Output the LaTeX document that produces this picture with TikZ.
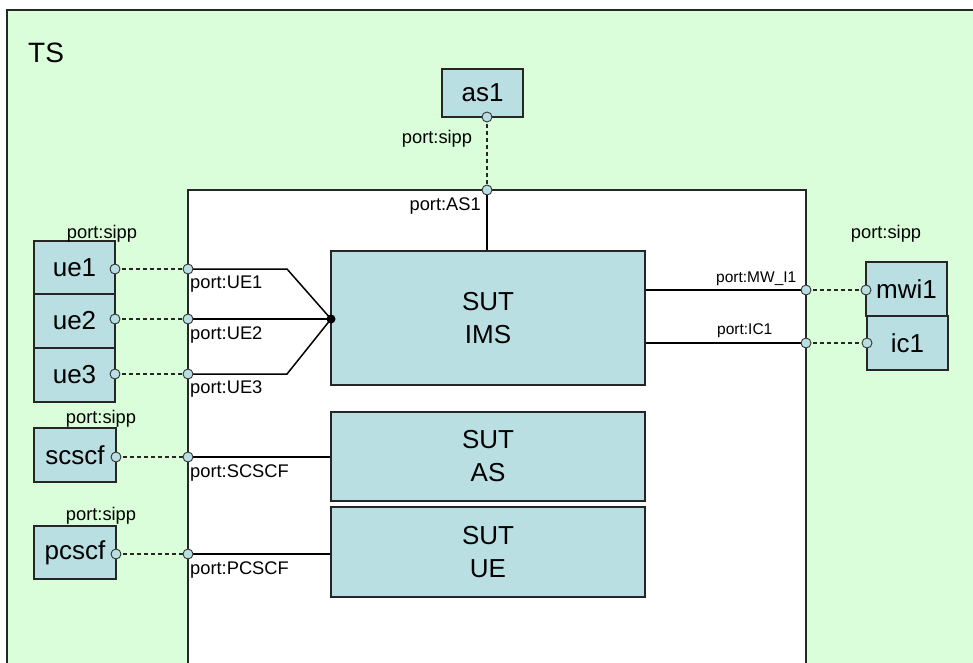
\documentclass[tikz,border=0pt]{standalone}
\usepackage{fontspec}
\setmainfont{Liberation Sans}
\definecolor{tsgreen}{HTML}{D9FED9}
\definecolor{boxblue}{HTML}{B9DFE3}
\begin{document}
\begin{tikzpicture}[x=1pt,y=-1pt,
  box/.style={draw=black!85, line width=1.4pt, fill=boxblue, inner sep=0pt, align=center,
    font=\fontsize{26}{33}\selectfont},
  portc/.style={circle, draw=black!80, line width=0.9pt, fill=boxblue, minimum size=10pt, inner sep=0pt},
  lbl/.style={font=\fontsize{18.3}{20}\selectfont, inner sep=0pt},
  rlbl/.style={font=\fontsize{15.5}{17}\selectfont, inner sep=0pt},
  conn/.style={draw=black, line width=1.5pt},
  dconn/.style={draw=black!85, line width=1.2pt, dash pattern=on 4pt off 3pt},
  frame/.style={draw=black!85, line width=1.6pt}]
\useasboundingbox (0,0) rectangle (973,662);
\clip (0,0) rectangle (973,662);
% TS frame
\fill[tsgreen] (7,10) rectangle (990,680);
\draw[frame] (7,690) -- (7,10) -- (990,10);
\node[anchor=base west, inner sep=0pt, font=\fontsize{28}{30}\selectfont] (ts) at (28,62) {TS};
% SUT frame
\fill[white] (188,190) rectangle (806,680);
\draw[frame] (188,690) -- (188,190) -- (806,190) -- (806,690);
% boxes
\node[box, minimum width=81pt, minimum height=48pt] (as1) at (482.5,93) {as1};
\node[box, minimum width=81pt, minimum height=53pt] (ue1) at (74.5,267.5) {ue1};
\node[box, minimum width=81pt, minimum height=54pt] (ue2) at (74.5,321) {ue2};
\node[box, minimum width=81pt, minimum height=54pt] (ue3) at (74.5,375) {ue3};
\node[box, minimum width=82pt, minimum height=54pt] (scscf) at (75,455) {scscf};
\node[box, minimum width=82pt, minimum height=53pt] (pcscf) at (75,552.5) {pcscf};
\node[box, minimum width=81pt, minimum height=54pt] (mwi1) at (906.5,289) {mwi1};
\node[box, minimum width=81pt, minimum height=54pt] (ic1) at (907.5,343) {ic1};
\node[box, minimum width=314pt, minimum height=134pt] (ims) at (488,318) {SUT\\IMS};
\node[box, minimum width=314pt, minimum height=89pt] (sutas) at (488,456.5) {SUT\\AS};
\node[box, minimum width=314pt, minimum height=90pt] (sutue) at (488,552) {SUT\\UE};
% port coordinates
\coordinate (pas1) at (487,117);
\coordinate (pAS1) at (487,190);
\coordinate (pue1) at (115,269);
\coordinate (pue2) at (115,319);
\coordinate (pue3) at (115,374);
\coordinate (pUE1) at (188,269);
\coordinate (pUE2) at (188,319);
\coordinate (pUE3) at (188,374);
\coordinate (pscscf) at (116,457);
\coordinate (pSCSCF) at (188,457);
\coordinate (ppcscf) at (116,554);
\coordinate (pPCSCF) at (188,554);
\coordinate (pmwi1) at (866,290);
\coordinate (pMW) at (806,290);
\coordinate (pic1) at (867,343);
\coordinate (pIC1) at (806,343);
\coordinate (j) at (331,319);
\coordinate (k1) at (287,269);
\coordinate (k3) at (287,374);
% solid connectors inside SUT
\draw[conn] (pAS1) -- (pAS1 |- ims.north);
\draw[conn] (pUE1) -- (k1) -- (j);
\draw[conn] (pUE2) -- (j);
\draw[conn] (pUE3) -- (k3) -- (j);
\draw[conn] (pSCSCF) -- (sutas.west |- pSCSCF);
\draw[conn] (pPCSCF) -- (sutue.west |- pPCSCF);
\draw[conn] (ims.east |- pMW) -- (pMW);
\draw[conn] (ims.east |- pIC1) -- (pIC1);
\fill[black] (j) circle (4.5pt);
% dashed connectors
\draw[dconn] (pas1) -- (pAS1);
\draw[dconn] (pue1) -- (pUE1);
\draw[dconn] (pue2) -- (pUE2);
\draw[dconn] (pue3) -- (pUE3);
\draw[dconn] (pscscf) -- (pSCSCF);
\draw[dconn] (ppcscf) -- (pPCSCF);
\draw[dconn] (pMW) -- (pmwi1);
\draw[dconn] (pIC1) -- (pic1);
% port circles
\foreach \p in {pas1,pAS1,pue1,pue2,pue3,pUE1,pUE2,pUE3,pscscf,pSCSCF,ppcscf,pPCSCF,pmwi1,pMW,pic1,pIC1}
  \node[portc] at (\p) {};
% labels
\node[lbl, anchor=base] (l1) at (437,143) {port:sipp};
\node[lbl, anchor=base east] (l2) at (481,210) {port:AS1};
\node[lbl, anchor=base] (l3) at (102,238) {port:sipp};
\node[lbl, anchor=base west] (l4) at (190,288) {port:UE1};
\node[lbl, anchor=base west] (l5) at (190,339) {port:UE2};
\node[lbl, anchor=base west] (l6) at (190,393) {port:UE3};
\node[lbl, anchor=base] (l7) at (101,423) {port:sipp};
\node[lbl, anchor=base west] (l8) at (190,477) {port:SCSCF};
\node[lbl, anchor=base] (l9) at (101,520) {port:sipp};
\node[lbl, anchor=base west] (l10) at (190,574) {port:PCSCF};
\node[lbl, anchor=base] (l11) at (886,238) {port:sipp};
\node[rlbl, anchor=base west] (l12) at (716,282) {port:MW\_I1};
\node[rlbl, anchor=base west] (l13) at (717,334) {port:IC1};
\end{tikzpicture}
\end{document}
